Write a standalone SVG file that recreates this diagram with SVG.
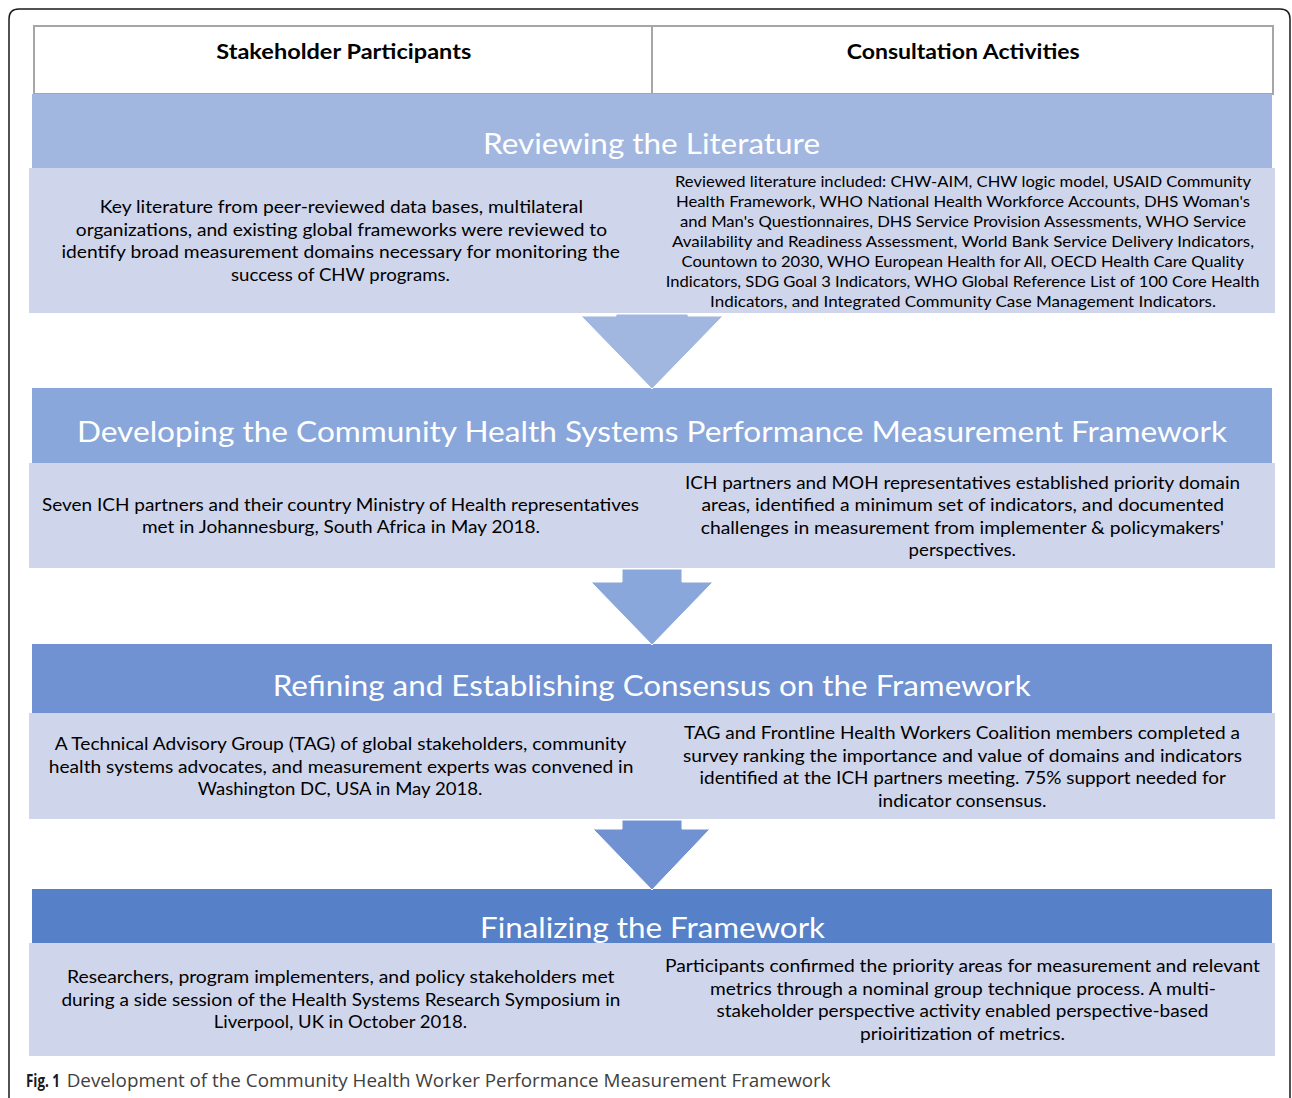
<svg xmlns="http://www.w3.org/2000/svg" width="1292" height="1098" viewBox="0 0 1292 1098">
<style>
.frame{fill:none;stroke:#1a1a1a;stroke-width:1.5}
.hdr{fill:#ffffff;stroke:#a6a6a6;stroke-width:2}
.hdrt{font-family:Lato,"Open Sans",sans-serif;font-weight:700;font-size:20px;fill:#000}
.body{fill:#cfd5ea}
.title{font-family:Lato,"Open Sans",sans-serif;font-size:29px;fill:#ffffff}
.t{font-family:Lato,"Open Sans",sans-serif;font-size:17px;fill:#000}
.ts{font-family:Lato,"Open Sans",sans-serif;font-size:15px;fill:#000}
.arrow{stroke:#ffffff;stroke-width:1}
.cap{font-family:"Open Sans",sans-serif;font-size:17.5px;fill:#404040}
.capb{font-family:"Open Sans",sans-serif;font-size:17.5px;font-weight:700;fill:#1a1a1a}
</style>
<rect width="1292" height="1098" fill="#ffffff"/>
<path class="frame" d="M9,1098 V19 Q9,9 19,9 H1280 Q1290,9 1290,19 V1098"/>

<g id="header">
<rect class="hdr" x="34" y="26" width="618" height="68"/>
<rect class="hdr" x="652" y="26" width="621" height="68"/>
<text class="hdrt" x="216.3" y="59" textLength="255" lengthAdjust="spacingAndGlyphs">Stakeholder Participants</text>
<text class="hdrt" x="846.7" y="59" textLength="233" lengthAdjust="spacingAndGlyphs">Consultation Activities</text>
</g>

<g id="step1">
<rect x="32" y="94" width="1240" height="74" fill="#a1b7e0"/>
<rect class="body" x="29" y="168" width="623" height="145"/>
<rect class="body" x="652" y="168" width="623" height="145"/>
<text class="title" x="483" y="154" textLength="337" lengthAdjust="spacingAndGlyphs">Reviewing the Literature</text>
<text class="t" x="99.7" y="213" textLength="483.3" lengthAdjust="spacingAndGlyphs">Key literature from peer-reviewed data bases, multilateral</text>
<text class="t" x="75.8" y="235.5" textLength="531.2" lengthAdjust="spacingAndGlyphs">organizations, and existing global frameworks were reviewed to</text>
<text class="t" x="61.4" y="258" textLength="558.6" lengthAdjust="spacingAndGlyphs">identify broad measurement domains necessary for monitoring the</text>
<text class="t" x="231" y="280.5" textLength="219" lengthAdjust="spacingAndGlyphs">success of CHW programs.</text>
<text class="ts" x="675" y="186.5" textLength="576" lengthAdjust="spacingAndGlyphs">Reviewed literature included: CHW-AIM, CHW logic model, USAID Community</text>
<text class="ts" x="676" y="206.5" textLength="574" lengthAdjust="spacingAndGlyphs">Health Framework, WHO National Health Workforce Accounts, DHS Woman's</text>
<text class="ts" x="680" y="226.5" textLength="566" lengthAdjust="spacingAndGlyphs">and Man's Questionnaires, DHS Service Provision Assessments, WHO Service</text>
<text class="ts" x="672" y="246.5" textLength="582" lengthAdjust="spacingAndGlyphs">Availability and Readiness Assessment, World Bank Service Delivery Indicators,</text>
<text class="ts" x="681.6" y="266.5" textLength="562.4" lengthAdjust="spacingAndGlyphs">Countown to 2030, WHO European Health for All, OECD Health Care Quality</text>
<text class="ts" x="665.8" y="286.5" textLength="593.7" lengthAdjust="spacingAndGlyphs">Indicators, SDG Goal 3 Indicators, WHO Global Reference List of 100 Core Health</text>
<text class="ts" x="710" y="306.5" textLength="506" lengthAdjust="spacingAndGlyphs">Indicators, and Integrated Community Case Management Indicators.</text>
</g>

<g id="step2">
<rect x="32" y="388" width="1240" height="75" fill="#8aa7db"/>
<rect class="body" x="29" y="463" width="623" height="105"/>
<rect class="body" x="652" y="463" width="623" height="105"/>
<text class="title" x="77" y="442" textLength="1150" lengthAdjust="spacingAndGlyphs">Developing the Community Health Systems Performance Measurement Framework</text>
<text class="t" x="42" y="510.5" textLength="597" lengthAdjust="spacingAndGlyphs">Seven ICH partners and their country Ministry of Health representatives</text>
<text class="t" x="142" y="533" textLength="398" lengthAdjust="spacingAndGlyphs">met in Johannesburg, South Africa in May 2018.</text>
<text class="t" x="685" y="488.5" textLength="555" lengthAdjust="spacingAndGlyphs">ICH partners and MOH representatives established priority domain</text>
<text class="t" x="701.5" y="511" textLength="522.5" lengthAdjust="spacingAndGlyphs">areas, identified a minimum set of indicators, and documented</text>
<text class="t" x="700.7" y="533.5" textLength="523.3" lengthAdjust="spacingAndGlyphs">challenges in measurement from implementer &amp; policymakers'</text>
<text class="t" x="908.6" y="556" textLength="107.4" lengthAdjust="spacingAndGlyphs">perspectives.</text>
</g>

<g id="step3">
<rect x="32" y="644" width="1240" height="69" fill="#7092d2"/>
<rect class="body" x="29" y="713" width="623" height="106"/>
<rect class="body" x="652" y="713" width="623" height="106"/>
<text class="title" x="272.7" y="696" textLength="758" lengthAdjust="spacingAndGlyphs">Refining and Establishing Consensus on the Framework</text>
<text class="t" x="54.7" y="750" textLength="571.6" lengthAdjust="spacingAndGlyphs">A Technical Advisory Group (TAG) of global stakeholders, community</text>
<text class="t" x="48.8" y="772.5" textLength="584.6" lengthAdjust="spacingAndGlyphs">health systems advocates, and measurement experts was convened in</text>
<text class="t" x="197.8" y="795" textLength="284.5" lengthAdjust="spacingAndGlyphs">Washington DC, USA in May 2018.</text>
<text class="t" x="684" y="739" textLength="556" lengthAdjust="spacingAndGlyphs">TAG and Frontline Health Workers Coalition members completed a</text>
<text class="t" x="683" y="761.5" textLength="559" lengthAdjust="spacingAndGlyphs">survey ranking the importance and value of domains and indicators</text>
<text class="t" x="699.5" y="784" textLength="526.5" lengthAdjust="spacingAndGlyphs">identified at the ICH partners meeting. 75% support needed for</text>
<text class="t" x="878" y="806.5" textLength="168.6" lengthAdjust="spacingAndGlyphs">indicator consensus.</text>
</g>

<g id="step4">
<rect x="32" y="889" width="1240" height="54" fill="#5680c8"/>
<text class="title" x="480" y="937.5" textLength="345" lengthAdjust="spacingAndGlyphs">Finalizing the Framework</text>
<rect class="body" x="29" y="943" width="623" height="113"/>
<rect class="body" x="652" y="943" width="623" height="113"/>
<text class="t" x="67" y="983.3" textLength="547.5" lengthAdjust="spacingAndGlyphs">Researchers, program implementers, and policy stakeholders met</text>
<text class="t" x="61.4" y="1006" textLength="559" lengthAdjust="spacingAndGlyphs">during a side session of the Health Systems Research Symposium in</text>
<text class="t" x="213.8" y="1028.3" textLength="253.2" lengthAdjust="spacingAndGlyphs">Liverpool, UK in October 2018.</text>
<text class="t" x="665" y="972.3" textLength="595" lengthAdjust="spacingAndGlyphs">Participants confirmed the priority areas for measurement and relevant</text>
<text class="t" x="710" y="995" textLength="506" lengthAdjust="spacingAndGlyphs">metrics through a nominal group technique process. A multi-</text>
<text class="t" x="716.5" y="1017.3" textLength="492" lengthAdjust="spacingAndGlyphs">stakeholder perspective activity enabled perspective-based</text>
<text class="t" x="860" y="1040" textLength="205" lengthAdjust="spacingAndGlyphs">prioiritization of metrics.</text>
</g>

<g id="connectors">
<polygon class="arrow" fill="#a1b7e0" points="616,314 688,314 688,316 723,316 652,389 581,316 616,316"/>
<polygon class="arrow" fill="#8aa7db" points="622,569 682,569 682,582 713,582 652,645 591,582 622,582"/>
<polygon class="arrow" fill="#7092d2" points="622,820 682,820 682,829 710,829 652,890 593,829 622,829"/>
</g>

<g id="caption">
<text class="capb" x="26" y="1087" textLength="34" lengthAdjust="spacingAndGlyphs">Fig. 1</text>
<text class="cap" x="66.7" y="1087" textLength="764" lengthAdjust="spacingAndGlyphs">Development of the Community Health Worker Performance Measurement Framework</text>
</g>
</svg>
